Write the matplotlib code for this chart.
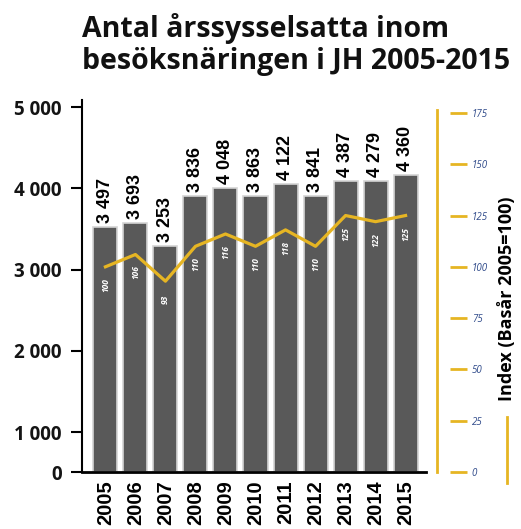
import numpy as np
import matplotlib
matplotlib.use("Agg")
import matplotlib.pyplot as plt
from matplotlib.lines import Line2D

# ---- data ----
years = ["2005", "2006", "2007", "2008", "2009", "2010", "2011", "2012", "2013", "2014", "2015"]
employees = [3497, 3693, 3253, 3836, 4048, 3863, 4122, 3841, 4387, 4279, 4360]
bar_heights = [3520, 3572, 3294, 3907, 4008, 3907, 4052, 3907, 4088, 4088, 4161]  # as drawn
index_vals = [100, 106, 93, 110, 116, 110, 118, 110, 125, 122, 125]
left_ticks = [0, 1000, 2000, 3000, 4000, 5000]
right_ticks = [0, 25, 50, 75, 100, 125, 150, 175]

GOLD = "#E6B523"
BAR = "#595959"
BLUE = "#2F4A8A"

# compressed segment below 1000 on the left axis
R = 0.49
def fwd(y):
    y = np.asarray(y, dtype=float)
    return np.where(y >= 1000, y, 1000 - (1000 - y) * R)
def inv(y):
    y = np.asarray(y, dtype=float)
    return np.where(y >= 1000, y, 1000 - (1000 - y) / R)

W, H = 521, 529
fig = plt.figure(figsize=(W / 100, H / 100), dpi=100)
L, Rr, T, B = 82, 426, 100, 472
ax = fig.add_axes([L / W, 1 - B / H, (Rr - L) / W, (B - T) / H])
ax.set_yscale("function", functions=(fwd, inv))

x = np.arange(len(years))
ax.bar(x, bar_heights, width=0.8, color=BAR, edgecolor="#d4d4d4", linewidth=1.2, zorder=2)
ax.set_xlim(-0.78, 10.68)
ax.set_ylim(0, 5087)

for xi, h, v in zip(x, bar_heights, employees):
    ax.annotate(f"{v:,}".replace(",", " "), (xi, h), xytext=(0, 3), textcoords="offset points",
                rotation=90, ha="center", va="bottom", fontsize=13, fontweight="bold",
                family="Liberation Sans", color="black")

ax.set_yticks(left_ticks)
ax.set_yticklabels([f"{t:,}".replace(",", " ") for t in left_ticks],
                   fontsize=13.5, fontweight="bold", family="Open Sans", color="#141414")
ax.tick_params(axis="y", length=8, width=1.5, pad=6.5, direction="out")
ax.yaxis.get_major_ticks()[0].tick1line.set_visible(False)
ax.set_xticks(x)
ax.set_xticklabels(years, rotation=90, fontsize=14.5, fontweight="bold", family="Liberation Sans")
ax.tick_params(axis="x", length=0, pad=6)
for s in ["top", "right"]:
    ax.spines[s].set_visible(False)
ax.spines["left"].set_linewidth(1.5)
ax.spines["bottom"].set_linewidth(2)

# index axis
ax2 = ax.twinx()
ax2.set_ylim(0, 181.3)
ax2.plot(x, index_vals, color=GOLD, linewidth=2.3, zorder=3)
for xi, v in zip(x, index_vals):
    ax2.annotate(str(v), (xi, v), xytext=(0, -13), textcoords="offset points", rotation=90,
                 ha="center", va="center", fontsize=6, fontweight="bold", style="italic",
                 color="white", family="Open Sans")
for s in ["top", "left", "bottom"]:
    ax2.spines[s].set_visible(False)
ax2.spines["right"].set_position(("outward", 17))
ax2.spines["right"].set_visible(False)
ax2.set_yticks(right_ticks)
ax2.set_yticklabels([str(t) for t in right_ticks], fontsize=7, style="italic",
                    color=BLUE, family="Open Sans")
ax2.tick_params(axis="y", length=12, width=2, color=GOLD, pad=4, direction="out")
fig.add_artist(Line2D([437 / W, 437 / W], [1 - 472 / H, 1 - 110 / H], color=GOLD, linewidth=2))

# right axis title + legend line
fig.text(507 / W, 1 - 299 / H, "Index (Basår 2005=100)", rotation=90, ha="center", va="center",
         fontsize=13, fontweight="bold", family="Open Sans", color="black")
fig.add_artist(Line2D([507 / W, 507 / W], [1 - 417 / H, 1 - 483 / H], color=GOLD, linewidth=2))

# title
fig.text(82 / W, 1 - 37 / H, "Antal årssysselsatta inom", ha="left", va="baseline",
         fontsize=20.5, fontweight="bold", family="Open Sans", color="#111111")
fig.text(82 / W, 1 - 69 / H, "besöksnäringen i JH 2005-2015", ha="left", va="baseline",
         fontsize=20.5, fontweight="bold", family="Open Sans", color="#111111")

fig.savefig("out.png", dpi=100)
